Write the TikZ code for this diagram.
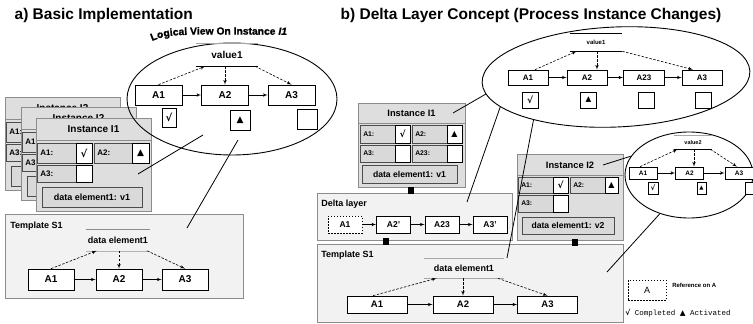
\documentclass[tikz,border=0pt]{standalone}
\usepackage{fontspec}
\setmainfont{Liberation Sans}
\setmonofont{Liberation Mono}
\newfontfamily\symfont{DejaVu Sans}
\newfontfamily\heavyfont[FakeBold=1.2]{Liberation Sans Bold}
\newfontfamily\heavyitfont[FakeBold=1.2]{Liberation Sans Bold Italic}
\usetikzlibrary{arrows,calc,shapes.geometric,decorations.text}
\definecolor{InstClr}{gray}{0.87}
\definecolor{TplClr}{gray}{0.95}
\definecolor{FrameClr}{gray}{0.55}
\definecolor{CellClr}{gray}{0.85}
\definecolor{CellEdge}{gray}{0.3}
\newcommand{\setfs}[1]{\fontsize{#1}{#1}\selectfont}
\newcommand{\tri}{{\symfont ▲}}

\tikzset{
  title/.style={anchor=base west, font=\bfseries\setfs{15.5}},
  act/.style={draw, fill=white, inner sep=0pt, line width=0.7pt, font=\bfseries},
  stbox/.style={draw, fill=white, inner sep=0pt, line width=0.7pt},
  sym/.style={inner sep=0pt, font=\symfont\setfs{9}},
  flow/.style={-latex', line width=0.6pt},
  rdflow/.style={-latex', dash pattern=on 2.5pt off 1.5pt, line width=0.6pt},
  storetxt/.style={inner sep=0pt, font=\bfseries},
  panel/.style={draw=FrameClr, fill=TplClr, line width=0.8pt},
  inst/.style={draw=FrameClr, fill=InstClr, line width=0.8pt},
  cell/.style={draw=CellEdge, fill=CellClr, line width=0.7pt},
  stcell/.style={draw=black, fill=white, line width=0.7pt},
  insthead/.style={inner sep=0pt, font=\bfseries\setfs{10}},
  celltxt/.style={anchor=west, inner sep=0pt, font=\bfseries\setfs{8}},
  detxt/.style={inner sep=0pt, font=\bfseries\setfs{9}},
  paneltxt/.style={anchor=west, inner sep=0pt, font=\bfseries\setfs{9}},
  joint/.style={fill=black, minimum width=6pt, minimum height=7pt, inner sep=0pt},
  view/.style={draw, ellipse, inner sep=0pt, line width=0.9pt},
  link/.style={line width=0.8pt},
}

\begin{document}
\begin{tikzpicture}[x=1pt, y=-1pt, line width=0.6pt]
\useasboundingbox (0,0) rectangle (753,324);
\fill[white] (0,0) rectangle (753,324);

% Titles of the two halves.
\node[title] (titleA) at (11,19.5) {a) Basic Implementation};
\node[title] (titleB) at (337,19.5) {b) Delta Layer Concept (Process Instance Changes)};

% ---------------- a) ----------------
% Stack of the instances I3, I2, I1 (front one last).
\foreach \n/\x/\y in {3/5/97, 2/21/107, 1/36/118}{
  \begin{scope}[shift={(\x,\y)}]
    \draw[inst] (0,0) rectangle (115,93);
    \draw[inst] (0,0) rectangle (115,22);
    \node[insthead] (ia\n) at (57.5,11) {Instance I\n};
    \draw[cell] (1,25) rectangle (40,45);
    \draw[stcell] (40,25) rectangle (56,45);
    \draw[cell] (58,25) rectangle (96,45);
    \draw[stcell] (96,25) rectangle (113,45);
    \draw[cell] (1,47) rectangle (40,64);
    \draw[stcell] (40,47) rectangle (56,64);
    \draw[cell] (6,69) rectangle (106,89);
    \node[celltxt] (ia\n-a1) at (4,35) {A1:};
    \node[celltxt] (ia\n-a3) at (4,55.5) {A3:};
  \end{scope}
}
% Entries only seen on I1.
\node[celltxt] (ia1-a2) at (97,153) {A2:};
\node[sym, font=\symfont\bfseries\setfs{10}] (ia1-s1) at (84,153) {√};
\node[sym] (ia1-s2) at (140.5,153) {\tri};
\node[detxt] (ia1-de) at (92,197) {data element1: v1};

% Template S1.
\draw[panel] (5,214) rectangle (243,298);
\node[paneltxt] (tplA) at (10,226) {Template S1};
\node[storetxt, minimum width=64, minimum height=21, font=\bfseries\setfs{9}] (deA) at (118,240) {data element1};
\draw[black!45] (deA.north west) -- (deA.north east);
\draw[black!30] (deA.south west) -- (deA.south east);
\node[act, minimum width=46, minimum height=21, font=\bfseries\setfs{10}] (ta1) at (51,279.5) {A1};
\node[act, minimum width=46, minimum height=21, font=\bfseries\setfs{10}] (ta2) at (119,279.5) {A2};
\node[act, minimum width=46, minimum height=21, font=\bfseries\setfs{10}] (ta3) at (185,279.5) {A3};
\draw[flow] (ta1) -- (ta2);
\draw[flow] (ta2) -- (ta3);
\draw[rdflow] (ta1.north) -- ($(deA.south west)!0.17!(deA.south east)$);
\draw[rdflow] (ta2.north |- deA.south) -- (ta2.north);
\draw[rdflow] ($(deA.south west)!0.95!(deA.south east)$) -- (ta3.north);

% Logical view on instance I1.
\node[view, minimum width=210, minimum height=112] (viewA) at (232,99) {};
\path[decorate, decoration={text along path, text align=left,
  text={|\heavyfont\setfs{10.3}|Logical View On Instance |\heavyitfont\setfs{10.3}|I1}}]
  (152,41) .. controls (170,34) .. (300,35);
\node[storetxt, minimum width=62, minimum height=22, font=\bfseries\setfs{10}] (valA) at (227,55) {value1};
\draw[black!35] (valA.north west) -- (valA.north east);
\draw (valA.south west) -- (valA.south east);
\node[act, minimum width=47, minimum height=20, font=\bfseries\setfs{10}] (a1) at (158.5,95) {A1};
\node[act, minimum width=47, minimum height=20, font=\bfseries\setfs{10}] (a2) at (225,95) {A2};
\node[act, minimum width=47, minimum height=20, font=\bfseries\setfs{10}] (a3) at (291.5,95) {A3};
\draw[flow] (a1) -- (a2);
\draw[flow] (a2) -- (a3);
\draw[rdflow] (a1.north) -- ($(valA.south west)!0.15!(valA.south east)$);
\draw[rdflow] (a2.north |- valA.south) -- (a2.north);
\draw[rdflow] ($(valA.south west)!0.95!(valA.south east)$) -- (a3.north);
\node[stbox, minimum width=14, minimum height=19, font=\symfont\bfseries\setfs{10}] (sa1) at (169,117.5) {√};
\node[stbox, minimum width=20, minimum height=20, font=\symfont\setfs{9}] (sa2) at (240,120) {▲};
\node[stbox, minimum width=20, minimum height=20] (sa3) at (307,119.5) {};

% Links from the view to instance and template.
\coordinate (la1) at (203,135);
\coordinate (la1e) at (138,174);
\coordinate (la2) at (238,140);
\coordinate (la2e) at (187,228);
\draw[link] (la1) -- (la1e);
\draw[link] (la2) -- (la2e);

% ---------------- b) ----------------
% Instance I1.
\begin{scope}[shift={(358,103)}]
  \draw[inst] (0,0) rectangle (107,84);
  \draw[inst] (0,0) rectangle (107,20);
  \node[insthead, font=\bfseries\setfs{9.3}] (ib1) at (53.5,10.5) {Instance I1};
  \draw[cell] (2,22) rectangle (37,40);
  \draw[stcell] (37,22) rectangle (52,40);
  \draw[cell] (54,22) rectangle (89,40);
  \draw[stcell] (89,22) rectangle (104,40);
  \draw[cell] (2,42) rectangle (37,59);
  \draw[stcell] (37,42) rectangle (52,59);
  \draw[cell] (54,42) rectangle (89,59);
  \draw[stcell] (89,42) rectangle (104,59);
  \draw[cell] (4,62) rectangle (99,80);
  \node[celltxt, font=\bfseries\setfs{6.8}] (ib1-a1) at (5,31) {A1:};
  \node[sym, font=\symfont\bfseries\setfs{9}] (ib1-s1) at (44.5,31) {√};
  \node[celltxt, font=\bfseries\setfs{6.8}] (ib1-a2) at (57,31) {A2:};
  \node[sym, font=\symfont\setfs{8}] (ib1-s2) at (96.5,31) {▲};
  \node[celltxt, font=\bfseries\setfs{6.8}] (ib1-a3) at (5,50.5) {A3:};
  \node[celltxt, font=\bfseries\setfs{6.8}] (ib1-a23) at (57,50.5) {A23:};
  \node[detxt, font=\bfseries\setfs{8.6}] (ib1-de) at (51.5,71) {data element1: v1};
\end{scope}

% Instance I2.
\begin{scope}[shift={(517,154)}]
  \draw[inst] (0,0) rectangle (106,86);
  \draw[inst] (0,0) rectangle (106,21);
  \node[insthead, font=\bfseries\setfs{9.3}] (ib2) at (53,11) {Instance I2};
  \draw[cell] (1,23) rectangle (36,39);
  \draw[stcell] (36,23) rectangle (51,39);
  \draw[cell] (53,23) rectangle (88,39);
  \draw[stcell] (88,23) rectangle (101,39);
  \draw[cell] (1,41) rectangle (36,58);
  \draw[stcell] (36,41) rectangle (51,58);
  \draw[cell] (5,63) rectangle (97,80);
  \node[celltxt, font=\bfseries\setfs{6.8}] (ib2-a1) at (4,31) {A1:};
  \node[sym, font=\symfont\bfseries\setfs{9}] (ib2-s1) at (43.5,31) {√};
  \node[celltxt, font=\bfseries\setfs{6.8}] (ib2-a2) at (56,31) {A2:};
  \node[sym, font=\symfont\setfs{8}] (ib2-s2) at (94.5,31) {▲};
  \node[celltxt, font=\bfseries\setfs{6.8}] (ib2-a3) at (4,49.5) {A3:};
  \node[detxt, font=\bfseries\setfs{8.6}] (ib2-de) at (51,71.5) {data element1: v2};
\end{scope}

% Delta layer.
\draw[panel] (317,193) rectangle (512,240);
\node[paneltxt] (dlt) at (321,204) {Delta layer};
\node[act, minimum width=34, minimum height=17, font=\bfseries\setfs{8.5}, dash pattern=on 1.5pt off 1.5pt] (d1) at (345,224.5) {A1};
\node[act, minimum width=34, minimum height=17, font=\bfseries\setfs{8.5}] (d2) at (393.5,224.5) {A2'};
\node[act, minimum width=34, minimum height=17, font=\bfseries\setfs{8.5}] (d23) at (442,224.5) {A23};
\node[act, minimum width=34, minimum height=17, font=\bfseries\setfs{8.5}] (d3) at (490,224.5) {A3'};
\draw[flow] (d1) -- (d2);
\draw[flow] (d2) -- (d23);
\draw[flow] (d23) -- (d3);

% Template S1.
\draw[panel] (317,244) rectangle (623,322);
\node[paneltxt] (tplB) at (321,255) {Template S1};
\node[storetxt, minimum width=80, minimum height=19, font=\bfseries\setfs{9}] (deB) at (464,268.5) {data element1};
\draw[black!35] (deB.north west) -- (deB.north east);
\draw[black!35] (deB.south west) -- (deB.south east);
\node[act, minimum width=60, minimum height=17, font=\bfseries\setfs{9.5}] (tb1) at (377,304.5) {A1};
\node[act, minimum width=60, minimum height=17, font=\bfseries\setfs{9.5}] (tb2) at (463,304.5) {A2};
\node[act, minimum width=60, minimum height=17, font=\bfseries\setfs{9.5}] (tb3) at (547.5,304.5) {A3};
\draw[flow] (tb1) -- (tb2);
\draw[flow] (tb2) -- (tb3);
\draw[rdflow] ([xshift=-4]tb1.north) -- ($(deB.south west)!0.16!(deB.south east)$);
\draw[rdflow] (tb2.north |- deB.south) -- (tb2.north);
\draw[rdflow] ($(deB.south west)!0.92!(deB.south east)$) -- (tb3.north);

% Joints between the layers.
\node[joint] (j1) at (411,190) {};
\node[joint] (j2) at (386,241.5) {};
\node[joint] (j3) at (575,242) {};

% View on instance I1 (big ellipse).
\node[view, minimum width=268, minimum height=100, rotate=2.5] (viewB) at (616,77) {};
\node[storetxt, minimum width=52, minimum height=17, font=\bfseries\setfs{6}] (valB) at (596,42.5) {value1};
\draw (valB.north west) -- (valB.north east);
\draw (valB.south west) -- (valB.south east);
\node[act, minimum width=40, minimum height=15, font=\bfseries\setfs{8}] (b1) at (528,77.5) {A1};
\node[act, minimum width=40, minimum height=15, font=\bfseries\setfs{8}] (b2) at (587,77.5) {A2};
\node[act, minimum width=41, minimum height=15, font=\bfseries\setfs{8}] (b23) at (644,77.5) {A23};
\node[act, minimum width=40, minimum height=15, font=\bfseries\setfs{8}] (b3) at (702,77.5) {A3};
\draw[flow] (b1) -- (b2);
\draw[flow] (b2) -- (b23);
\draw[flow] (b23) -- (b3);
\draw[rdflow] ([xshift=7]b1.north) -- ($(valB.south west)!0.13!(valB.south east)$);
\draw[rdflow] ([xshift=10]b2.north |- valB.south) -- ([xshift=10]b2.north);
\draw[rdflow] (valB.south east) -- ([xshift=-9]b3.north);
\node[stbox, minimum width=16, minimum height=16, font=\symfont\bfseries\setfs{9}] (sb1) at (530,100) {√};
\node[stbox, minimum width=16, minimum height=16, font=\symfont\setfs{7.5}] (sb2) at (588.5,100) {▲};
\node[stbox, minimum width=16, minimum height=16] (sb23) at (646.5,100) {};
\node[stbox, minimum width=16, minimum height=16] (sb3) at (703.5,100) {};

% View on instance I2 (small ellipse).
\node[view, minimum width=128, minimum height=86] (viewS) at (689,175) {};
\node[storetxt, minimum width=38, minimum height=13, font=\bfseries\setfs{5.5}] (valS) at (693,142.5) {value2};
\draw[black!35] (valS.north west) -- (valS.north east);
\draw (valS.south west) -- (valS.south east);
\node[act, minimum width=28, minimum height=12, font=\bfseries\setfs{6.5}] (c1) at (643,173) {A1};
\node[act, minimum width=28, minimum height=12, font=\bfseries\setfs{6.5}] (c2) at (689.5,173) {A2};
\node[act, minimum width=28, minimum height=12, font=\bfseries\setfs{6.5}] (c3) at (739,173) {A3};
\draw[flow] (c1) -- (c2);
\draw[flow] (c2) -- (c3);
\draw[rdflow] ([xshift=-3]c1.north) -- ($(valS.south west)!0.1!(valS.south east)$);
\draw[rdflow] ([xshift=4.5]c2.north |- valS.south) -- ([xshift=4.5]c2.north);
\draw[rdflow] ($(valS.south west)!0.95!(valS.south east)$) -- ([xshift=-2]c3.north);
\node[stbox, minimum width=10, minimum height=12, font=\symfont\bfseries\setfs{7}] (sc1) at (653,188) {√};
\node[stbox, minimum width=9, minimum height=12, font=\symfont\setfs{5.5}] (sc2) at (701.5,188) {▲};
\node[stbox, minimum width=10, minimum height=12] (sc3) at (750,188) {};

% Links from the views.
\coordinate (lb1) at (453,113);
\coordinate (lb2) at (467,202);
\coordinate (lb3) at (507,258);
\coordinate (ls1) at (603,165);
\coordinate (ls2) at (607,272);
\draw[link] (viewB.185) -- (lb1);
\draw[link] (viewB.192) -- (lb2);
\draw[link] (viewB.205) -- (lb3);
\draw[link] (viewS.162) -- (ls1);
\draw[link] (viewS.233) -- (ls2);

% Legend.
\node[draw, inner sep=0pt, minimum width=38, minimum height=20, dash pattern=on 1.5pt off 1.5pt, font=\setfs{9}] (legA) at (647,290) {A};
\node[anchor=west, inner sep=0pt, font=\bfseries\setfs{6}] (legAtxt) at (672,285) {Reference on A};
\node[anchor=west, inner sep=0pt, font=\ttfamily\setfs{7.5}] (legS) at (625,313) {{\symfont\bfseries √} Completed {\symfont ▲} Activated};
\end{tikzpicture}
\end{document}
